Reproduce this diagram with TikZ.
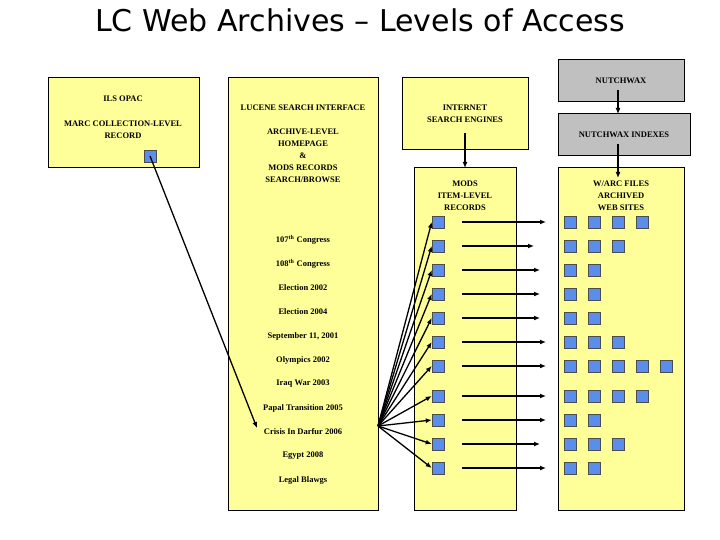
\documentclass[tikz,border=0pt]{standalone}
\usepackage{fontspec}
\setmainfont{Liberation Serif}
\newfontfamily\titlefont{DejaVu Sans}
\definecolor{ylw}{HTML}{FFFF99}
\definecolor{blu}{HTML}{5B8EEB}
\definecolor{gry}{HTML}{C0C0C0}
\begin{document}
\begin{tikzpicture}[x=1pt,y=-1pt,
  box/.style={draw=black,fill=ylw,line width=1pt},
  gbox/.style={draw=black,fill=gry,line width=1pt},
  sq/.style={draw=black!70,fill=blu,minimum size=12pt,inner sep=0pt,line width=0.5pt},
  lbl/.style={font=\fontsize{8.5}{12}\selectfont\bfseries,align=center,inner sep=0pt},
  arr/.style={-{Latex[length=6pt,width=5pt]},line width=1.3pt}]
\usetikzlibrary{arrows.meta}
\useasboundingbox (0,0) rectangle (720,540);
\node[font=\titlefont\fontsize{30}{34}\selectfont] (title) at (360,20) {LC Web Archives – Levels of Access};
% boxes
\draw[box] (48,78) rectangle (199,168);
\draw[box] (228,78) rectangle (378,510);
\draw[box] (402,78) rectangle (528,150);
\draw[box] (414,168) rectangle (516,510);
\draw[gbox] (558,60) rectangle (684,102);
\draw[gbox] (558,114) rectangle (690,156);
\draw[box] (558,168) rectangle (684,510);
% texts
\node[lbl] (ils) at (123,99) {ILS OPAC};
\node[lbl] (marc) at (123,130) {MARC COLLECTION-LEVEL\\RECORD};
\node[lbl] (luc) at (303,108) {LUCENE SEARCH INTERFACE};
\node[lbl] (arch) at (303,156) {ARCHIVE-LEVEL\\HOMEPAGE\\\&\\MODS RECORDS\\SEARCH/BROWSE};
\node[lbl] (ise) at (465,114) {INTERNET\\SEARCH ENGINES};
\node[lbl] (mods) at (465,196) {MODS\\ITEM-LEVEL\\RECORDS};
\node[lbl] (nw) at (621,81) {NUTCHWAX};
\node[lbl] (nwi) at (624,135) {NUTCHWAX INDEXES};
\node[lbl] (warc) at (621,196) {W/ARC FILES\\ARCHIVED\\WEB SITES};
\foreach \t [count=\i] in {107\textsuperscript{th} Congress,108\textsuperscript{th} Congress,Election 2002,Election 2004,{September 11, 2001},Olympics 2002,Iraq War 2003,Papal Transition 2005,Crisis In Darfur 2006,Egypt 2008,Legal Blawgs}
  \node[lbl] (c\i) at (303,216+24*\i) {\t};
% squares
\node[sq] (ilsq) at (150,156) {};
\coordinate (hub) at (378,426);
\coordinate (dar) at (257,428);
\draw[arr] (ilsq.center) -- (dar);
\foreach \y/\n/\ex [count=\i] in {222/4/546,246/3/534,270/2/540,294/2/540,318/2/540,342/3/546,366/5/546,396/4/546,420/2/546,444/3/540,468/2/546}{
  \node[sq] (m\i) at (438,\y) {};
  \draw[arr] (hub) -- (m\i.west);
  \coordinate (e\i) at (\ex,\y);
  \draw[arr] (462,\y) -- (e\i);
  \foreach \k in {1,...,\n}
    \node[sq] (w\i-\k) at (546+24*\k,\y) {};
}
\draw[arr] (ise.south |- 0,133) -- (465,168);
\draw[arr] (618,90) -- (618,114);
\draw[arr] (618,144) -- (618,178);
\end{tikzpicture}
\end{document}
